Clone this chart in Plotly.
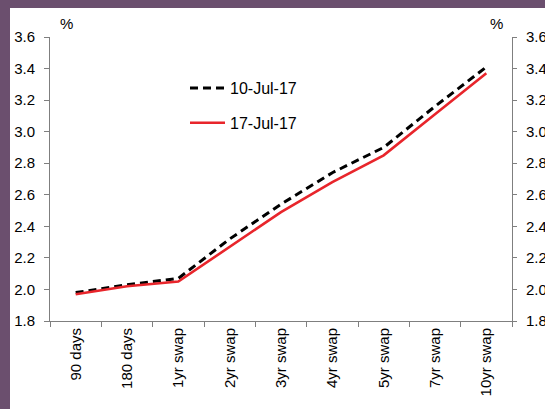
import plotly.graph_objects as go

categories = ["90 days", "180 days", "1yr swap", "2yr swap", "3yr swap",
              "4yr swap", "5yr swap", "7yr swap", "10yr swap"]
jul10 = [1.98, 2.03, 2.07, 2.32, 2.54, 2.74, 2.90, 3.16, 3.41]
jul17 = [1.97, 2.02, 2.05, 2.27, 2.49, 2.68, 2.85, 3.11, 3.37]
series_names = ["10-Jul-17", "17-Jul-17"]
y_ticks = [1.8, 2.0, 2.2, 2.4, 2.6, 2.8, 3.0, 3.2, 3.4, 3.6]

W, H = 545, 409
L, R, T, B = 50, 33, 37, 88
pw, ph = W - L - R, H - T - B

def px(x):
    return (x - L) / pw

def py(y):
    return (H - B - y) / ph

FONT = "Liberation Sans, Arial, sans-serif"
PURPLE = "#6b4f6e"
AXC = "#7f7f7f"

fig = go.Figure()
fig.add_trace(go.Scatter(x=categories, y=jul10, mode="lines", name=series_names[0],
                         line=dict(color="black", width=3, dash="8px,5px"),
                         legendgroup="a"))
fig.add_trace(go.Scatter(x=categories, y=jul17, mode="lines", name=series_names[1],
                         line=dict(color="#e8252b", width=2.6),
                         legendgroup="b"))
fig.add_trace(go.Scatter(x=categories, y=jul10, mode="lines", yaxis="y2",
                         line=dict(width=0, color="rgba(0,0,0,0)"),
                         showlegend=False, hoverinfo="skip"))

tick_text = ["%.1f" % v for v in y_ticks]
yax = dict(range=[1.8, 3.6], tickvals=y_ticks, ticktext=tick_text,
           showgrid=False, zeroline=False, showline=True, linecolor=AXC,
           linewidth=1, ticks="outside", ticklen=5, tickcolor=AXC, automargin=False,
           tickfont=dict(family=FONT, size=15, color="black"))

fig.update_layout(
    width=W, height=H,
    margin=dict(l=L, r=R, t=T, b=B, autoexpand=False),
    paper_bgcolor="white", plot_bgcolor="white",
    showlegend=True,
    legend=dict(x=px(185), y=py(71), xanchor="left", yanchor="top",
                bgcolor="rgba(0,0,0,0)", font=dict(family=FONT, size=16, color="black"),
                traceorder="grouped", tracegroupgap=11, itemwidth=35),
    xaxis=dict(range=[-0.5, len(categories) - 0.5], automargin=False,
               showgrid=False, zeroline=False, showline=True, linecolor=AXC,
               linewidth=1, ticks="outside", ticklen=5, tickcolor=AXC,
               tickson="boundaries", tickangle=-90,
               tickfont=dict(family=FONT, size=15, color="black")),
    yaxis=dict(yax, ticklabelstandoff=6),
    yaxis2=dict(yax, overlaying="y", side="right", ticklen=4, ticklabelstandoff=6),
    shapes=[
        dict(type="rect", xref="paper", yref="paper", x0=px(0), x1=px(10),
             y0=py(H), y1=py(0), fillcolor=PURPLE, line=dict(width=0), layer="above"),
        dict(type="rect", xref="paper", yref="paper", x0=px(0), x1=px(W),
             y0=py(8), y1=py(0), fillcolor=PURPLE, line=dict(width=0), layer="above"),
    ],
    annotations=[
        dict(text="%", xref="paper", yref="paper", x=px(66), y=py(23.5),
             xanchor="center", yanchor="middle",
             showarrow=False, font=dict(family=FONT, size=15, color="black")),
        dict(text="%", xref="paper", yref="paper", x=px(496.5), y=py(23.5),
             xanchor="center", yanchor="middle",
             showarrow=False, font=dict(family=FONT, size=15, color="black")),
    ],
)

fig.write_html("out.html", config={"displayModeBar": False},
               post_script="document.body.style.margin='0';document.body.style.padding='0';")
